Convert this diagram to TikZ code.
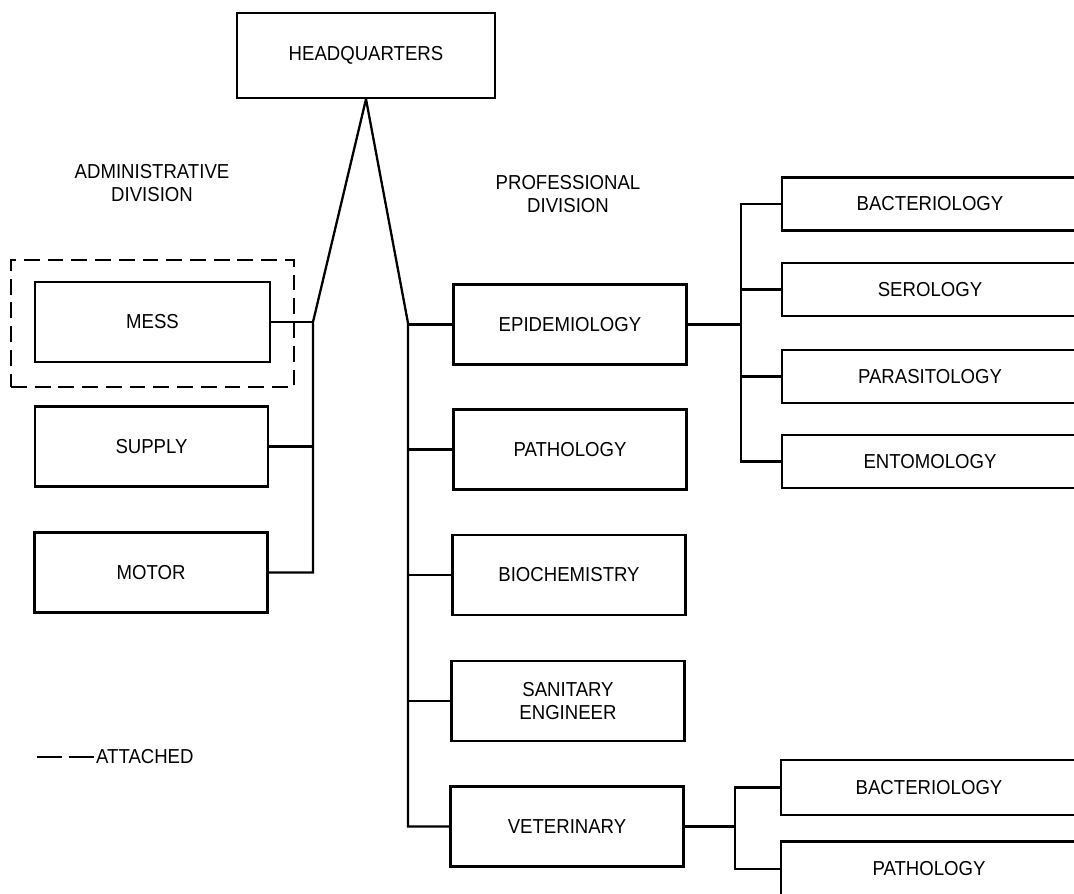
\documentclass[tikz,border=0pt]{standalone}
\usepackage{fontspec}
\setmainfont[FakeStretch=0.92]{Liberation Sans}
\usepackage{tikz}
\tikzset{
  bx/.style={draw,rectangle,minimum width=4.66cm,minimum height=1.6cm,inner sep=0pt,font=\fontsize{11.5}{13.5}\selectfont,align=center},
  sb/.style={draw,rectangle,minimum width=5.92cm,minimum height=1.06cm,inner sep=0pt,font=\fontsize{11.5}{13.5}\selectfont},
  lbl/.style={align=center,inner sep=0pt,font=\fontsize{11.5}{13.5}\selectfont},
  att/.style={line width=1.6pt,dash pattern=on 9pt off 4.5pt},
  every picture/.style={line width=1.3pt},
}
\begin{document}
\begin{tikzpicture}[x=0.02cm,y=-0.02cm]
\useasboundingbox (0,0) rectangle (1074,893); \clip (0,0) rectangle (1074,893);
\node[bx,minimum width=5.16cm,minimum height=1.7cm] (hq) at (366,55.5){HEADQUARTERS};
\node[lbl] (adm) at (152,183){ADMINISTRATIVE\\DIVISION}; \node[lbl] (prof) at (568,194){PROFESSIONAL\\DIVISION};
% administrative side
\node[bx,minimum width=4.7cm] (mess) at (152.5,322){MESS}; \node[bx] (sup) at (151.5,446.5){SUPPLY}; \node[bx] (mot) at (151,572.5){MOTOR};
\node[att,draw,minimum width=5.66cm,minimum height=2.54cm] (messatt) at (152.5,323.5){};
\coordinate (lt) at (313,322);
\draw (hq.south) -- (lt) -- (lt |- mot.east) -- (mot.east); \draw (mess.east) -- (lt); \draw (sup.east) -- (sup.east -| lt);
% professional side
\node[bx] (epi) at (570,324.5){EPIDEMIOLOGY}; \node[bx] (path) at (570,449.5){PATHOLOGY}; \node[bx] (bio) at (569,575){BIOCHEMISTRY};
\node[bx] (san) at (568,701){SANITARY\\ENGINEER}; \node[bx] (vet) at (567,826.5){VETERINARY};
\coordinate (rt) at (408,323);
\draw (hq.south) -- (rt) -- (rt |- vet.west) -- (vet.west);
\foreach \n in {epi,path,bio,san} \draw (\n.west) -- (\n.west -| rt);
% epidemiology sections
\node[sb] (bact) at (930,204){BACTERIOLOGY}; \node[sb] (sero) at (930,289.5){SEROLOGY};
\node[sb] (para) at (930,376.5){PARASITOLOGY}; \node[sb] (ento) at (930,461.5){ENTOMOLOGY};
\coordinate (eb) at (741,324.5);
\draw (epi.east) -- (eb); \draw (bact.west) -- (bact.west -| eb) -- (ento.west -| eb) -- (ento.west);
\foreach \n in {sero,para} \draw (\n.west) -- (\n.west -| eb);
% veterinary sections
\node[sb,minimum height=1.1cm] (vbact) at (929,787.5){BACTERIOLOGY}; \node[sb,minimum height=1.1cm] (vpath) at (929,869){PATHOLOGY};
\coordinate (vb) at (735,826.5);
\draw (vet.east) -- (vb); \draw (vbact.west) -- (vbact.west -| vb) -- (vpath.west -| vb) -- (vpath.west);
% legend
\coordinate (leg) at (37,757); \node[lbl,anchor=west] (attl) at (95,757){ATTACHED};
\draw[line width=1.6pt,dash pattern=on 14.5pt off 3.5pt] (leg) -- (attl.west);
\end{tikzpicture}
\end{document}
